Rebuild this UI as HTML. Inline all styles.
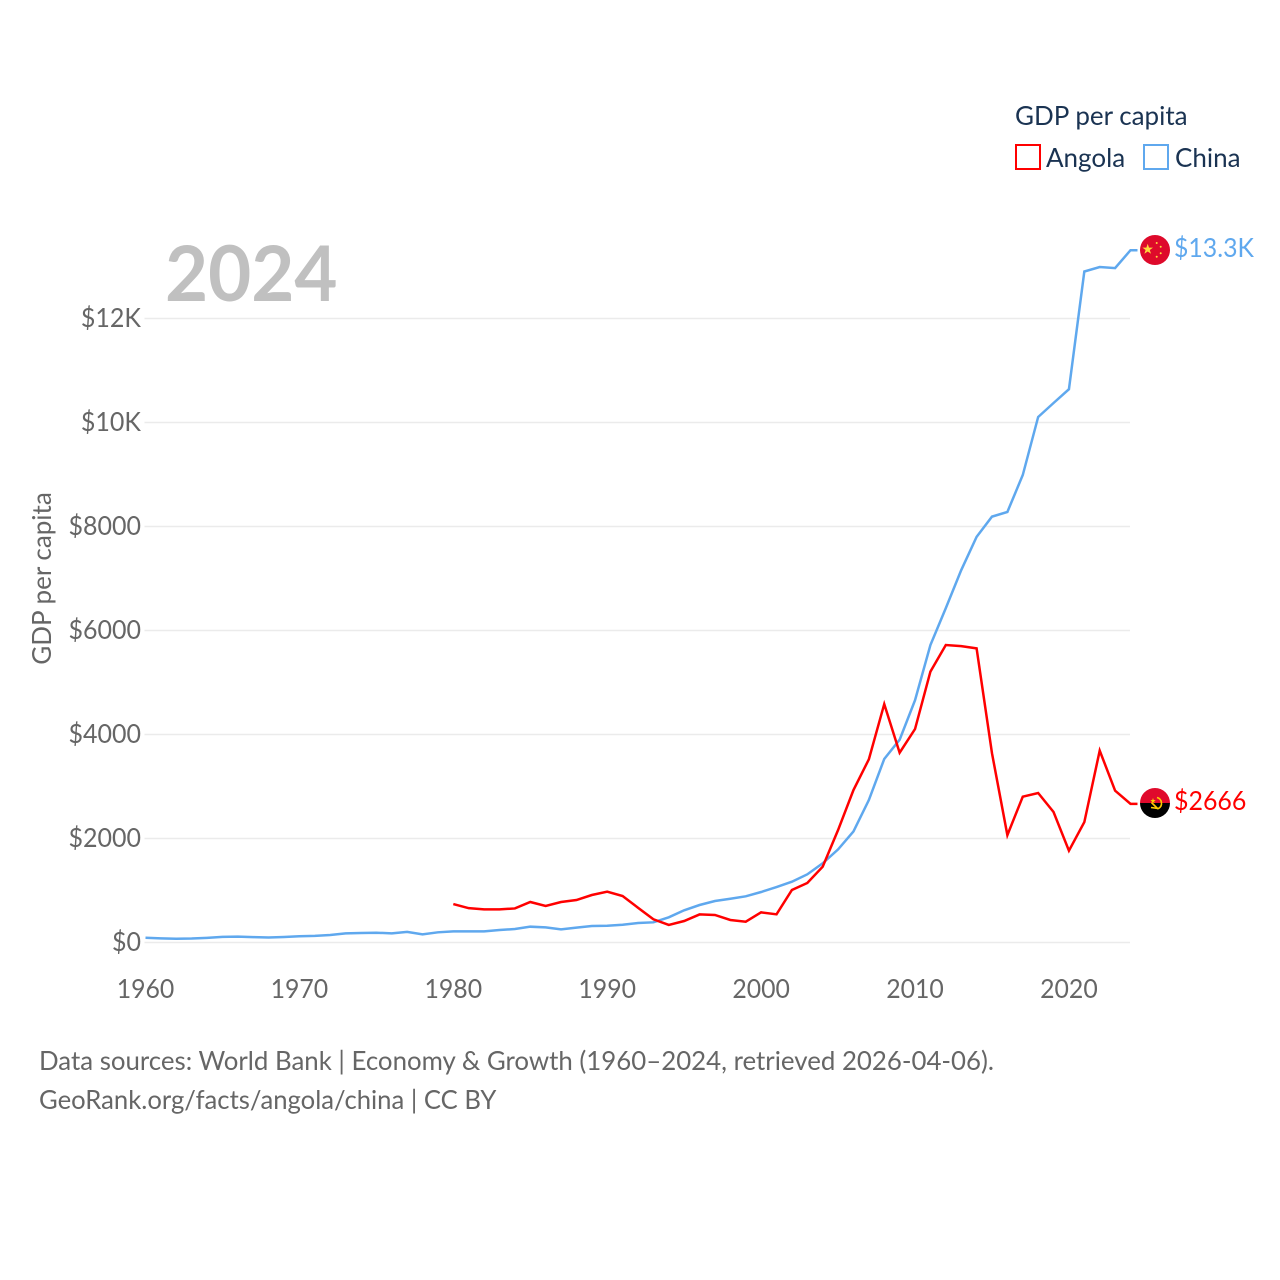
<!DOCTYPE html>
<html lang="en">
<head>
<meta charset="utf-8">
<title>GDP per capita: Angola and China</title>
<style>
html,body{margin:0;padding:0;background:#fff;width:1280px;height:1280px;overflow:hidden}
svg{display:block}
text{font-family:"Lato","Liberation Sans",sans-serif}
</style>
</head>
<body>
<svg id="chart" xmlns="http://www.w3.org/2000/svg" width="1280" height="1280" viewBox="0 0 1280 1280">
  <defs>
    <clipPath id="flag-clip-china"><circle cx="1155" cy="250" r="15"/></clipPath>
    <clipPath id="flag-clip-angola"><circle cx="1155" cy="803" r="15"/></clipPath>
  </defs>
  <g id="grid"></g>
  <g id="yticks"></g>
  <g id="xticks"></g>
  <text class="fit" data-ratio="0.966" x="165" y="301" font-size="77" font-weight="700" fill="#c0c0c0">2024</text>
  <text transform="translate(51,578.5) rotate(-90)" text-anchor="middle" font-size="26" fill="#666">GDP per capita</text>
  <g id="lines"></g>

  <g clip-path="url(#flag-clip-china)">
    <rect x="1140" y="235" width="30" height="30" fill="#de0a2b"/>
    <polygon points="1147.7,243.8 1149,247.6 1153,247.6 1149.8,250 1151,253.8 1147.7,251.5 1144.4,253.8 1145.6,250 1142.4,247.6 1146.4,247.6" fill="#ffd83d"/>
    <circle cx="1156.7" cy="243" r="1" fill="#ffd83d"/>
    <circle cx="1160.7" cy="246.7" r="1" fill="#ffd83d"/>
    <circle cx="1160.7" cy="253.3" r="1" fill="#ffd83d"/>
    <circle cx="1156.7" cy="256.7" r="1" fill="#ffd83d"/>
  </g>
  <g clip-path="url(#flag-clip-angola)">
    <rect x="1140" y="788" width="30" height="15" fill="#e00a2c"/>
    <rect x="1140" y="803" width="30" height="15" fill="#000"/>
    <path d="M1157 797.5 A6 6 0 0 1 1158.5 808.5 L1151 807.5" fill="none" stroke="#ffcb00" stroke-width="1.6"/>
    <path d="M1151.5 802.5 L1158 809" fill="none" stroke="#ffcb00" stroke-width="1.6"/>
    <polygon points="1153,798 1153.7,800 1155.8,800 1154.1,801.2 1154.7,803.2 1153,802 1151.3,803.2 1151.9,801.2 1150.2,800 1152.3,800" fill="#ffcb00"/>
  </g>

  <text class="fit" data-ratio="0.955" x="1174" y="257" font-size="26" fill="#5fa8ee">$13.3K</text>
  <text class="fit" data-ratio="0.96" x="1174" y="810" font-size="26" fill="#ff0000">$2666</text>

  <g>
    <text x="1015" y="125" font-size="26" fill="#1a3352">GDP per capita</text>
    <rect x="1016" y="145" width="24" height="24" fill="none" stroke="#ff0000" stroke-width="2"/>
    <text x="1046" y="167" font-size="26" fill="#1a3352">Angola</text>
    <rect x="1144" y="145" width="24" height="24" fill="none" stroke="#5fa8ee" stroke-width="2"/>
    <text x="1175" y="167" font-size="26" fill="#1a3352">China</text>
  </g>

  <text class="fit" data-ratio="0.9935" x="39" y="1070" font-size="26" fill="#666">Data sources: World Bank | Economy &amp; Growth (1960–2024, retrieved 2026-04-06).</text>
  <text class="fit" data-ratio="0.987" x="39" y="1109" font-size="26" fill="#666">GeoRank.org/facts/angola/china | CC BY</text>
</svg>
<script>
const years = [1960,1961,1962,1963,1964,1965,1966,1967,1968,1969,1970,1971,1972,1973,1974,1975,1976,1977,1978,1979,1980,1981,1982,1983,1984,1985,1986,1987,1988,1989,1990,1991,1992,1993,1994,1995,1996,1997,1998,1999,2000,2001,2002,2003,2004,2005,2006,2007,2008,2009,2010,2011,2012,2013,2014,2015,2016,2017,2018,2019,2020,2021,2022,2023,2024];
const chinaValues = [92,80,73,76,90,108,112,103,96,106,120,128,144,176,183,188,176,205,157,196,215,215,215,240,260,304,290,253,285,317,323,342,375,388,485,620,721,798,842,888,971,1067,1169,1311,1523,1790,2135,2740,3530,3900,4660,5720,6430,7160,7800,8190,8280,8990,10106,10375,10640,12904,12990,12970,13313];
const angolaValues = [null,null,null,null,null,null,null,null,null,null,null,null,null,null,null,null,null,null,null,null,740,660,638,638,655,779,702,779,817,913,977,894,669,446,337,413,540,530,433,400,580,542,1010,1145,1458,2163,2932,3523,4585,3650,4105,5210,5721,5700,5657,3640,2065,2805,2875,2510,1765,2315,3690,2920,2666];
const yTickValues = [0,2000,4000,6000,8000,10000,12000];
const yTickLabels = ["$0","$2000","$4000","$6000","$8000","$10K","$12K"];
const xTickValues = [1960,1970,1980,1990,2000,2010,2020];

const NS = "http://www.w3.org/2000/svg";
function xScale(year){ return 145.5 + (year - 1960) * (985 / 64); }
function yScale(value){ return 942.5 - value * 0.052; }

function squeeze(el, ratio){
  el.setAttribute("textLength", (el.getComputedTextLength() * ratio).toFixed(2));
  el.setAttribute("lengthAdjust", "spacingAndGlyphs");
}

const gridG = document.getElementById("grid");
const yG = document.getElementById("yticks");
yTickValues.forEach(function(v, i){
  const ln = document.createElementNS(NS, "line");
  
  
  ln.setAttribute("x1", 144.5);
  ln.setAttribute("x2", 1130);
  ln.setAttribute("y1", yScale(v));
  ln.setAttribute("y2", yScale(v));
  ln.setAttribute("stroke", "#ebebeb");
  ln.setAttribute("stroke-width", "1.5");
  gridG.appendChild(ln);
  const t = document.createElementNS(NS, "text");
  
  
  t.setAttribute("x", 141);
  t.setAttribute("y", yScale(v) + 8.5);
  t.setAttribute("text-anchor", "end");
  t.setAttribute("font-size", "26");
  t.setAttribute("fill", "#666");
  t.textContent = yTickLabels[i];
  yG.appendChild(t);
  squeeze(t, 0.962);
});

const xG = document.getElementById("xticks");
xTickValues.forEach(function(y){
  const t = document.createElementNS(NS, "text");
  
  
  t.setAttribute("x", xScale(y));
  t.setAttribute("y", 998);
  t.setAttribute("text-anchor", "middle");
  t.setAttribute("font-size", "26");
  t.setAttribute("fill", "#666");
  t.textContent = y;
  xG.appendChild(t);
  squeeze(t, 0.955);
});

document.querySelectorAll("text.fit").forEach(function(el){
  squeeze(el, parseFloat(el.getAttribute("data-ratio")));
});

function buildPath(values){
  let d = "";
  let lastX = 0, lastY = 0;
  values.forEach(function(v, i){
    if (v === null) return;
    lastX = xScale(years[i]);
    lastY = yScale(v);
    d += (d ? "L" : "M") + lastX.toFixed(2) + " " + lastY.toFixed(2);
  });
  return d + "L" + (lastX + 7).toFixed(2) + " " + lastY.toFixed(2);
}

const linesG = document.getElementById("lines");
const chinaLine = document.createElementNS(NS, "path");


chinaLine.setAttribute("d", buildPath(chinaValues));
chinaLine.setAttribute("fill", "none");
chinaLine.setAttribute("stroke", "#5fa8ee");
chinaLine.setAttribute("stroke-width", "2.5");
linesG.appendChild(chinaLine);

const angolaLine = document.createElementNS(NS, "path");


angolaLine.setAttribute("d", buildPath(angolaValues));
angolaLine.setAttribute("fill", "none");
angolaLine.setAttribute("stroke", "#ff0000");
angolaLine.setAttribute("stroke-width", "2.5");
linesG.appendChild(angolaLine);
</script>
</body>
</html>
